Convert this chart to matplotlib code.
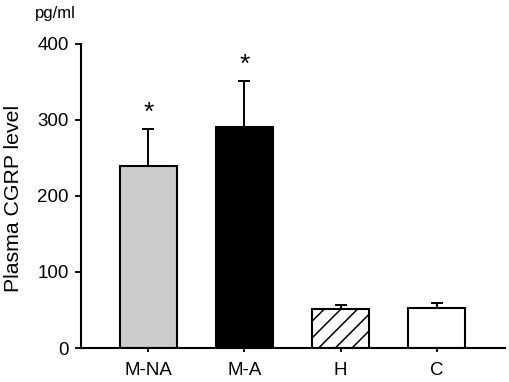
import matplotlib
matplotlib.use("Agg")
import matplotlib.pyplot as plt

categories = ["M-NA", "M-A", "H", "C"]
values = [240, 291, 51, 53]
errors = [48, 60, 5, 6]
significant = [True, True, False, False]

plt.rcParams['font.family'] = ['Liberation Sans', 'DejaVu Sans']
plt.rcParams['hatch.linewidth'] = 1.1

fig = plt.figure(figsize=(5.1, 3.82), dpi=100)
ax = fig.add_axes([0.159, 0.089, 0.831, 0.796])

x = list(range(len(categories)))
colors = ["#cccccc", "#000000", "#ffffff", "#ffffff"]
hatches = [None, None, "//", None]
bars = ax.bar(x, values, width=0.6, color=colors, edgecolor="black", linewidth=1.5, zorder=2)
for b, h in zip(bars, hatches):
    if h:
        b.set_hatch(h)
ax.errorbar(x, values, yerr=[[0]*len(errors), errors], fmt="none", ecolor="black",
            elinewidth=1.4, capsize=4, capthick=1.4, zorder=1)
for xi, v, e, s in zip(x, values, errors, significant):
    if s:
        ax.text(xi, v + e + 6, "*", ha="center", va="bottom", fontsize=19)

ax.set_xlim(-0.70, 3.71)
ax.set_ylim(0, 400)
ax.set_yticks([0, 100, 200, 300, 400])
ax.set_xticks(x)
ax.set_xticklabels(categories)
ax.tick_params(axis="both", labelsize=13.5, width=1.3)
ax.tick_params(axis="y", length=4, pad=5)
ax.tick_params(axis="x", length=3, pad=7)
ax.spines['top'].set_visible(False)
ax.spines['right'].set_visible(False)
ax.spines['left'].set_linewidth(1.5)
ax.spines['bottom'].set_linewidth(1.5)
fig.text(0.026, 0.480, "Plasma CGRP level", fontsize=15.3, rotation=90,
         ha="center", va="center")
fig.text(0.108, 0.965, "pg/ml", fontsize=12, va="center", ha="center")

fig.savefig("out.png", dpi=100)
